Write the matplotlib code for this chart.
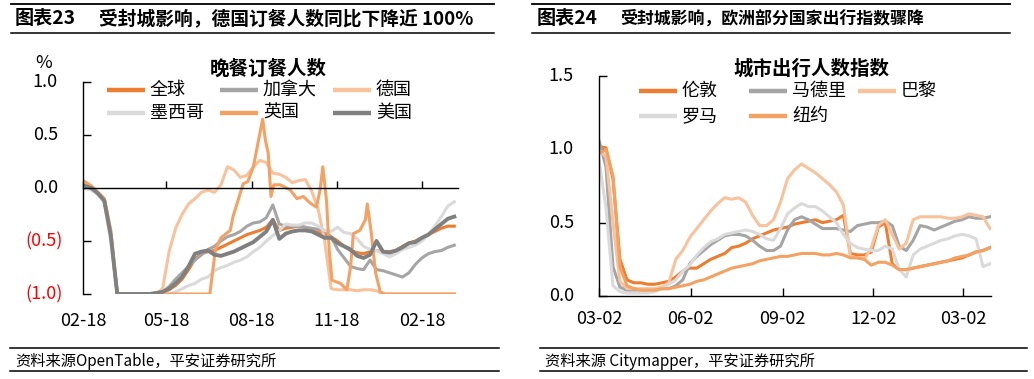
import matplotlib
matplotlib.use('Agg')
import matplotlib.pyplot as plt
import matplotlib.dates as mdates
import matplotlib.transforms as mtransforms
from matplotlib.lines import Line2D
import pandas as pd

plt.rcParams['font.family'] = ['Noto Sans CJK SC', 'DejaVu Sans']

# ---------------- data: left chart (OpenTable, weekly) ----------------
left_dates = pd.date_range('2020-02-20', periods=58, freq='7D')
left_names = ['全球', '加拿大', '德国', '墨西哥', '英国', '美国']
global_vals = [0.0, -0.01, -0.05, -0.12, -0.45, -1.0,
               -1.0, -1.0, -1.0, -1.0, -1.0,
               -0.99, -0.98, -0.96, -0.92, -0.86, -0.77, -0.67, -0.62, -0.6, -0.59,
               -0.56, -0.53, -0.5, -0.47, -0.44, -0.42, -0.4, -0.37, -0.3, -0.4,
               -0.38, -0.37, -0.36, -0.37, -0.4, -0.42, -0.43, -0.46, -0.5, -0.55,
               -0.59, -0.61, -0.62, -0.6, -0.59, -0.6, -0.6, -0.59, -0.55, -0.52,
               -0.5, -0.47, -0.44, -0.41, -0.38, -0.36, -0.36]
canada_vals = [0.0, -0.01, -0.05, -0.12, -0.45, -1.0,
               -1.0, -1.0, -1.0, -1.0, -1.0, -1.0,
               -0.98, -0.93, -0.86, -0.8, -0.74, -0.68, -0.63, -0.58, -0.55, -0.5,
               -0.46, -0.44, -0.41, -0.36, -0.33, -0.32, -0.28, -0.16, -0.34, -0.36,
               -0.36, -0.36, -0.37, -0.38, -0.39, -0.41, -0.46, -0.58, -0.66, -0.74,
               -0.76, -0.77, -0.68, -0.77, -0.78, -0.8, -0.82, -0.84, -0.8, -0.72,
               -0.66, -0.62, -0.6, -0.59, -0.56, -0.54]
germany_vals = [0.04, 0.01, -0.04, -0.1, -0.4, -1.0,
                -1.0, -1.0, -1.0, -1.0, -1.0, -1.0,
                -0.95, -0.6, -0.38, -0.25, -0.15, -0.1, -0.04, -0.02, -0.04, 0.03,
                0.2, 0.17, 0.1, 0.12, 0.2, 0.26, 0.24, 0.14, 0.13, 0.1,
                0.05, 0.07, 0.08, -0.03, -0.2, -0.5, -0.95, -0.96, -0.96, -0.96,
                -0.97, -0.96, -0.96, -0.97,
                -1.0, -1.0, -1.0, -1.0, -1.0, -1.0, -1.0, -1.0, -1.0, -1.0, -1.0, -1.0]
mexico_vals = [0.0, -0.02, -0.06, -0.14, -0.5, -1.0,
               -1.0, -1.0, -1.0, -1.0, -1.0, -1.0, -1.0, -1.0,
               -0.98, -0.95, -0.92, -0.9, -0.86, -0.84, -0.78, -0.75, -0.73, -0.7,
               -0.68, -0.65, -0.6, -0.56, -0.5, -0.45, -0.4, -0.34, -0.35, -0.35,
               -0.33, -0.33, -0.36, -0.4, -0.41, -0.37, -0.42, -0.43, -0.48, -0.55,
               -0.58, -0.59, -0.62, -0.65, -0.62, -0.58, -0.56, -0.54, -0.5, -0.44,
               -0.36, -0.27, -0.17, -0.13]
us_vals = [0.02, 0.0, -0.05, -0.12, -0.45, -1.0,
           -1.0, -1.0, -1.0, -1.0, -1.0,
           -0.99, -0.98, -0.95, -0.9, -0.84, -0.74, -0.62, -0.6, -0.59, -0.63,
           -0.64, -0.62, -0.6, -0.57, -0.54, -0.51, -0.46, -0.41, -0.3, -0.48,
           -0.43, -0.41, -0.4, -0.4, -0.41, -0.44, -0.47, -0.47, -0.52, -0.55,
           -0.58, -0.64, -0.66, -0.63, -0.5, -0.6, -0.61, -0.59, -0.56, -0.52,
           -0.51, -0.47, -0.44, -0.39, -0.34, -0.29, -0.27]
uk_dates = pd.to_datetime([
    '2020-02-20', '2020-02-27', '2020-03-05', '2020-03-12', '2020-03-19', '2020-03-26',
    '2020-07-04', '2020-07-10', '2020-07-16', '2020-07-26', '2020-07-29', '2020-08-04',
    '2020-08-09', '2020-08-14', '2020-08-20', '2020-08-24', '2020-08-30', '2020-09-02',
    '2020-09-05', '2020-09-08', '2020-09-11', '2020-09-18', '2020-09-29', '2020-10-06',
    '2020-10-13', '2020-10-20', '2020-10-27', '2020-10-31', '2020-11-03', '2020-11-07',
    '2020-11-10', '2020-11-13', '2020-11-22', '2020-11-29', '2020-12-03', '2020-12-06',
    '2020-12-13', '2020-12-19', '2020-12-21', '2020-12-25', '2020-12-30', '2021-01-04',
    '2021-01-09', '2021-03-25'])
uk_vals = [0.06, 0.02, -0.04, -0.1, -0.4, -1.0,
           -1.0, -0.58, -0.47, -0.4, -0.27, -0.1,
           0.04, 0.06, 0.2, 0.38, 0.65, 0.45,
           0.33, -0.08, 0.03, 0.03, -0.02, -0.1,
           -0.08, -0.14, -0.18, -0.02, 0.2, -0.12,
           -0.6, -0.87, -0.9, -0.96, -0.74, -0.43,
           -0.4, -0.3, -0.15, -0.4, -0.8, -0.98,
           -1.0, -1.0]
left_ticks = ['2020-02-18', '2020-05-18', '2020-08-18', '2020-11-18', '2021-02-18']
left_ticklabels = ['02-18', '05-18', '08-18', '11-18', '02-18']
left_yticks = [1.0, 0.5, 0.0, -0.5, -1.0]
left_yticklabels = ['1.0', '0.5', '0.0', '(0.5)', '(1.0)']

# ---------------- data: right chart (Citymapper, weekly) ----------------
right_dates = pd.date_range('2020-03-02', periods=57, freq='7D')
right_names = ['伦敦', '马德里', '巴黎', '罗马', '纽约']
london_vals = [1.02, 1.01, 0.8, 0.25, 0.11, 0.09, 0.09, 0.08, 0.08, 0.09,
               0.1, 0.13, 0.17, 0.19, 0.19, 0.22, 0.25, 0.27, 0.29, 0.33,
               0.34, 0.36, 0.39, 0.41, 0.43, 0.45, 0.46, 0.47, 0.49, 0.5,
               0.51, 0.52, 0.5, 0.51, 0.52, 0.55, 0.29, 0.28, 0.28, 0.3,
               0.47, 0.5, 0.22, 0.18, 0.18, 0.19, 0.2, 0.21, 0.22, 0.23,
               0.24, 0.25, 0.26, 0.28, 0.3, 0.31, 0.33]
madrid_vals = [1.06, 0.88, 0.2, 0.06, 0.04, 0.04, 0.04, 0.04, 0.04, 0.05,
               0.05, 0.07, 0.11, 0.22, 0.27, 0.31, 0.35, 0.38, 0.41, 0.42,
               0.42, 0.41, 0.38, 0.34, 0.31, 0.31, 0.34, 0.45, 0.52, 0.54,
               0.52, 0.49, 0.46, 0.46, 0.46, 0.45, 0.44, 0.48, 0.49, 0.5,
               0.5, 0.51, 0.48, 0.34, 0.31, 0.38, 0.48, 0.47, 0.45, 0.47,
               0.49, 0.51, 0.52, 0.54, 0.53, 0.53, 0.54]
paris_vals = [0.99, 0.95, 0.5, 0.1, 0.05, 0.05, 0.05, 0.05, 0.05, 0.06,
              0.09, 0.25, 0.31, 0.4, 0.46, 0.52, 0.58, 0.63, 0.67, 0.66,
              0.67, 0.64, 0.55, 0.48, 0.48, 0.52, 0.64, 0.8, 0.86, 0.9,
              0.87, 0.84, 0.8, 0.76, 0.71, 0.62, 0.27, 0.26, 0.25, 0.33,
              0.48, 0.52, 0.42, 0.32, 0.36, 0.52, 0.54, 0.54, 0.54, 0.54,
              0.53, 0.53, 0.54, 0.56, 0.55, 0.54, 0.46]
rome_vals = [0.93, 0.6, 0.07, 0.03, 0.02, 0.02, 0.02, 0.02, 0.03, 0.05,
             0.08, 0.11, 0.17, 0.21, 0.28, 0.33, 0.37, 0.39, 0.42, 0.43,
             0.44, 0.45, 0.44, 0.42, 0.39, 0.38, 0.46, 0.56, 0.6, 0.63,
             0.61, 0.61, 0.58, 0.54, 0.5, 0.42, 0.36, 0.33, 0.32, 0.31,
             0.31, 0.34, 0.32, 0.18, 0.13, 0.28, 0.32, 0.34, 0.36, 0.38,
             0.39, 0.41, 0.42, 0.41, 0.39, 0.2, 0.22]
newyork_vals = [0.97, 1.0, 0.82, 0.2, 0.07, 0.05, 0.04, 0.04, 0.04, 0.05,
                0.05, 0.06, 0.07, 0.08, 0.1, 0.11, 0.13, 0.15, 0.17, 0.19,
                0.2, 0.21, 0.22, 0.24, 0.25, 0.26, 0.27, 0.27, 0.28, 0.29,
                0.29, 0.29, 0.28, 0.28, 0.29, 0.28, 0.26, 0.26, 0.25, 0.21,
                0.23, 0.23, 0.21, 0.18, 0.18, 0.19, 0.2, 0.21, 0.22, 0.23,
                0.24, 0.26, 0.27, 0.28, 0.3, 0.31, 0.33]
right_ticks = ['2020-03-02', '2020-06-02', '2020-09-02', '2020-12-02', '2021-03-02']
right_ticklabels = ['03-02', '06-02', '09-02', '12-02', '03-02']
right_yticks = [1.5, 1.0, 0.5, 0.0]
right_yticklabels = ['1.5', '1.0', '0.5', '0.0']

# ---------------- style ----------------
C_ORANGE = '#ED7D31'
C_GRAY = '#A5A5A5'
C_PEACH = '#F8C29C'
C_LGRAY = '#DADADA'
C_SAND = '#F4A264'
C_DGRAY = '#808080'

W, H = 1034, 379
fig = plt.figure(figsize=(W / 100, H / 100), dpi=100)


def fx(x):
    return x / W


def fy(y):
    return 1 - y / H


def hline(x0, x1, y, lw=1.2):
    fig.add_artist(Line2D([fx(x0), fx(x1)], [fy(y), fy(y)], transform=fig.transFigure,
                          color='black', lw=lw))


def ylabels(ax, ticks, labels, colors):
    for t, lab, c in zip(ticks, labels, colors):
        off = -20 if lab.startswith('(') else -25
        tr = mtransforms.offset_copy(ax.get_yaxis_transform(), fig=fig, x=off, y=0, units='dots')
        ax.text(0, t, lab, transform=tr, ha='right', va='center', fontsize=13, color=c)


def legend(entries, cols, rows):
    for i, (name, color) in enumerate(entries):
        c, r = i % 3, i // 3
        x0, y = cols[c], rows[r]
        fig.add_artist(Line2D([fx(x0), fx(x0 + 38)], [fy(y), fy(y)], transform=fig.transFigure,
                              color=color, lw=3.2, solid_capstyle='butt'))
        fig.text(fx(x0 + 43), fy(y), name, fontsize=13, va='center', ha='left')


# ---------------- header / footer ----------------
hline(11, 494, 4, 1.3)
hline(11, 494, 33, 1.1)
hline(532, 1010, 4, 1.3)
hline(532, 1010, 33, 1.1)
fig.text(fx(15), fy(19), '图表23', fontsize=13.8, weight='bold', va='center')
fig.text(fx(99), fy(19), '受封城影响，德国订餐人数同比下降近 100%', fontsize=13.5,
         weight='bold', va='center')
fig.text(fx(537), fy(19), '图表24', fontsize=13.8, weight='bold', va='center')
fig.text(fx(620), fy(19), '受封城影响，欧洲部分国家出行指数骤降', fontsize=12.2,
         weight='bold', va='center')

hline(10, 499, 348, 1.1)
hline(10, 499, 371, 1.1)
hline(540, 1027, 348, 1.1)
hline(540, 1027, 371, 1.1)
fig.text(fx(15), fy(361), '资料来源OpenTable，平安证券研究所', fontsize=11, style='italic',
         va='center')
fig.text(fx(545), fy(361), '资料来源 Citymapper，平安证券研究所', fontsize=11, style='italic',
         va='center')

# ---------------- left chart ----------------
axL = fig.add_axes([fx(83), fy(294), fx(458) - fx(83), fy(82) - fy(294)])
left_series = [global_vals, canada_vals, germany_vals, mexico_vals, None, us_vals]
left_colors = [C_ORANGE, C_GRAY, C_PEACH, C_LGRAY, C_SAND, C_DGRAY]
left_lw = [2.2, 2.2, 2.2, 2.2, 2.2, 2.8]
for name, vals, col, lw in zip(left_names, left_series, left_colors, left_lw):
    if name == '英国':
        axL.plot(uk_dates, uk_vals, color=col, lw=lw, solid_joinstyle='round')
    else:
        axL.plot(left_dates, vals, color=col, lw=lw, solid_joinstyle='round')
axL.set_xlim(pd.Timestamp('2020-02-18'), pd.Timestamp('2021-03-29'))
axL.set_ylim(-1.0, 1.0)
for s in ['top', 'right']:
    axL.spines[s].set_visible(False)
axL.spines['bottom'].set_position(('data', 0))
axL.spines['bottom'].set_linewidth(1.0)
axL.spines['left'].set_linewidth(1.0)
lt = mdates.date2num(pd.to_datetime(left_ticks))
axL.set_xticks(lt)
axL.tick_params(axis='x', direction='in', length=5, width=1.0, labelbottom=False)
axL.set_yticks(left_yticks)
axL.tick_params(axis='y', direction='in', length=6, width=1.0, labelleft=False)
ylabels(axL, left_yticks, left_yticklabels, ['black', 'black', 'black', 'red', 'red'])
secL = axL.secondary_xaxis(0.0)
secL.set_xticks(lt, left_ticklabels)
secL.tick_params(length=0, pad=13, labelsize=13)
secL.spines['bottom'].set_visible(False)

fig.text(fx(44), fy(63), '%', fontsize=13, ha='center', va='center')
fig.text(fx(268), fy(69), '晚餐订餐人数', fontsize=14, weight='bold', ha='center', va='center')
legend(list(zip(left_names, left_colors)), [107, 220, 333], [90, 113])

# ---------------- right chart ----------------
axR = fig.add_axes([fx(599), fy(296), fx(991) - fx(599), fy(76) - fy(296)])
right_series = [london_vals, madrid_vals, paris_vals, rome_vals, newyork_vals]
right_colors = [C_ORANGE, C_GRAY, C_PEACH, C_LGRAY, C_SAND]
for vals, col in zip(right_series, right_colors):
    axR.plot(right_dates, vals, color=col, lw=2.2, solid_joinstyle='round')
axR.set_xlim(pd.Timestamp('2020-03-02'), pd.Timestamp('2021-03-30'))
axR.set_ylim(0, 1.5)
for s in ['top', 'right']:
    axR.spines[s].set_visible(False)
axR.spines['bottom'].set_linewidth(1.0)
axR.spines['left'].set_linewidth(1.0)
rt = mdates.date2num(pd.to_datetime(right_ticks))
axR.set_xticks(rt, right_ticklabels)
axR.tick_params(axis='x', direction='in', length=6, width=1.0, pad=10, labelsize=13)
axR.set_yticks(right_yticks)
axR.tick_params(axis='y', direction='in', length=6, width=1.0, labelleft=False)
ylabels(axR, right_yticks, right_yticklabels, ['black'] * 4)

fig.text(fx(811), fy(69), '城市出行人数指数', fontsize=14, weight='bold', ha='center', va='center')
legend(list(zip(right_names, right_colors)), [639, 749, 858], [91, 116])

fig.savefig('out.png', dpi=100)
